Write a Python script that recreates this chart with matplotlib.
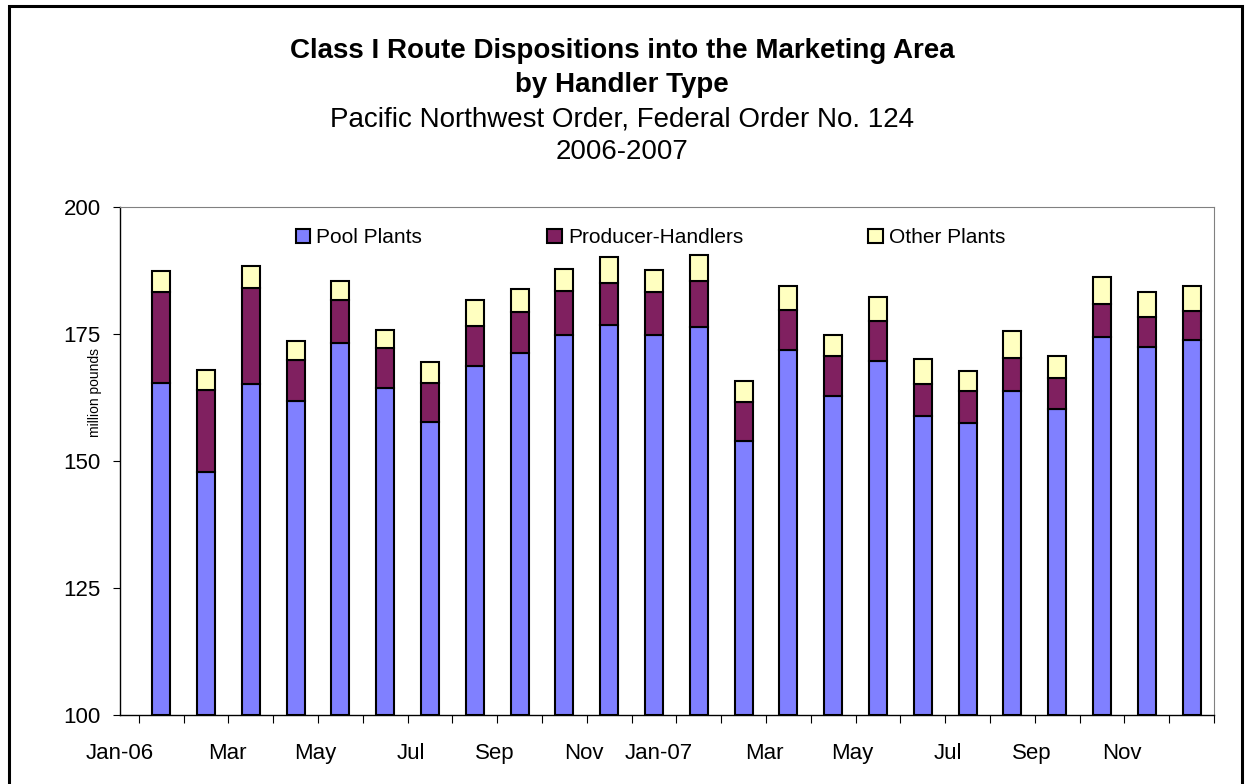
import numpy as np
import matplotlib
matplotlib.use("Agg")
import matplotlib.pyplot as plt
from matplotlib.patches import Rectangle
from matplotlib.ticker import FixedLocator

plt.rcParams['font.family'] = ['Liberation Sans', 'DejaVu Sans']

# monthly values, Jan-06 .. Dec-07 (million pounds)
pool = [165.3, 147.9, 165.2, 161.9, 173.2, 164.4, 157.6, 168.7, 171.3, 174.9, 176.8, 174.9,
        176.4, 154.0, 171.9, 162.7, 169.7, 158.9, 157.4, 163.8, 160.2, 174.5, 172.5, 173.8]
producer = [18.0, 16.1, 18.8, 8.0, 8.4, 7.9, 7.7, 7.9, 8.1, 8.6, 8.2, 8.4,
            9.0, 7.7, 7.8, 8.0, 7.9, 6.3, 6.4, 6.4, 6.1, 6.5, 5.9, 5.8]
other = [4.1, 3.9, 4.4, 3.7, 3.8, 3.5, 4.1, 5.0, 4.5, 4.3, 5.2, 4.3,
         5.2, 4.1, 4.8, 4.1, 4.6, 4.8, 4.0, 5.3, 4.4, 5.3, 4.9, 4.8]

month_labels = ['Jan-06', 'Mar', 'May', 'Jul', 'Sep', 'Nov',
                'Jan-07', 'Mar', 'May', 'Jul', 'Sep', 'Nov']
label_pos = [-0.92, 1.47, 3.43, 5.57, 7.44, 9.43, 11.1, 13.47, 15.42, 17.57, 19.43, 21.45]

series_names = ['Pool Plants', 'Producer-Handlers', 'Other Plants']
colors = ['#8080FF', '#802060', '#FFFFC0']

W, H = 1249, 784
fig = plt.figure(figsize=(W / 100, H / 100), dpi=100)
ax = fig.add_axes([120 / W, 1 - 715 / H, (1214 - 120) / W, (715 - 207) / H])

x = np.arange(len(pool))
pool = np.array(pool)
producer = np.array(producer)
other = np.array(other)

ax.bar(x, pool - 100, bottom=100, width=0.40, color=colors[0], edgecolor='black',
       linewidth=1.5, label=series_names[0])
ax.bar(x, producer, bottom=pool, width=0.40, color=colors[1], edgecolor='black',
       linewidth=1.5, label=series_names[1])
ax.bar(x, other, bottom=pool + producer, width=0.40, color=colors[2], edgecolor='black',
       linewidth=1.5, label=series_names[2])

ax.set_xlim(-0.5, len(pool) - 0.5)
ax.set_ylim(100, 200)
ax.set_yticks([100, 125, 150, 175, 200])
ax.tick_params(axis='y', direction='out', length=5, width=0.8, labelsize=16, pad=9)

ax.set_xticks(label_pos)
ax.set_xticklabels(month_labels)
ax.xaxis.set_minor_locator(FixedLocator(np.arange(-0.5, len(pool), 1.0)))
ax.tick_params(axis='x', which='major', length=0, labelsize=16, pad=20)
ax.tick_params(axis='x', which='minor', direction='out', length=5.5, width=0.8)

for s in ['top', 'right']:
    ax.spines[s].set_color('#808080')
    ax.spines[s].set_linewidth(0.8)
for s in ['left', 'bottom']:
    ax.spines[s].set_color('black')
    ax.spines[s].set_linewidth(1.0)

# axis title sits between the 175 and 150 labels
ax.set_ylabel('million pounds', fontsize=10)
ax.yaxis.set_label_coords(-0.016, 0.635)

ax.legend(loc='upper center', bbox_to_anchor=(0.485, 0.995), ncol=3, frameon=False,
          fontsize=15, handlelength=0.7, handleheight=0.7, handletextpad=0.3,
          columnspacing=6.0)

cx = 0.498
fig.text(cx, 1 - 58 / H, 'Class I Route Dispositions into the Marketing Area',
         ha='center', va='baseline', fontsize=20, fontweight='bold')
fig.text(cx, 1 - 92 / H, 'by Handler Type', ha='center', va='baseline',
         fontsize=20, fontweight='bold')
fig.text(cx, 1 - 126 / H, 'Pacific Northwest Order, Federal Order No. 124',
         ha='center', va='baseline', fontsize=20)
fig.text(cx, 1 - 159 / H, '2006-2007', ha='center', va='baseline', fontsize=20)

# chart border
fig.patches.append(Rectangle((8.5 / W, -0.05), (1241.5 - 8.5) / W, 1.05 - 6.5 / H,
                             transform=fig.transFigure, fill=False,
                             edgecolor='black', linewidth=2.2))

fig.savefig('out.png', dpi=100)
